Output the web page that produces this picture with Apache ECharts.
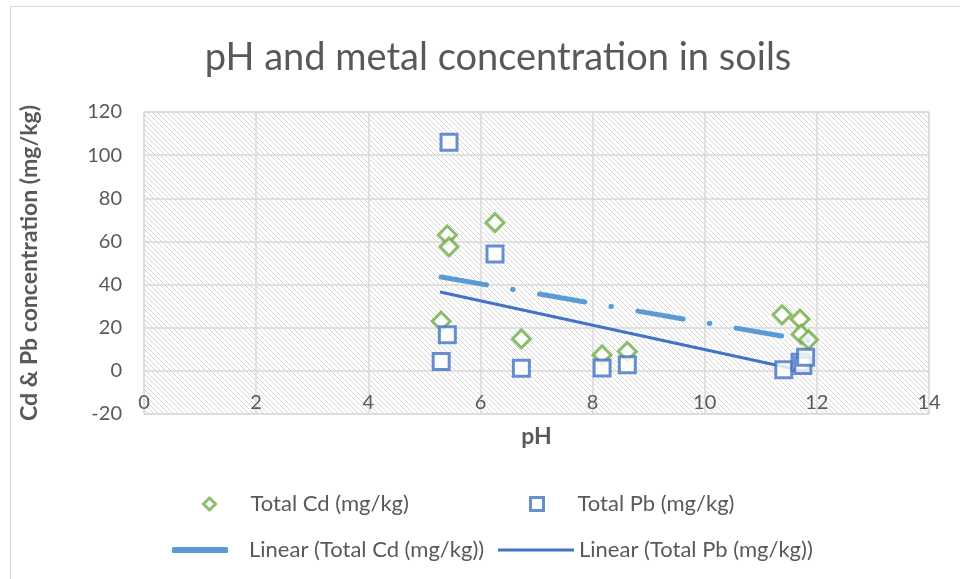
<!DOCTYPE html>
<html>
<head>
<meta charset="utf-8">
<script src="https://cdn.jsdelivr.net/npm/echarts@6/dist/echarts.min.js"></script>
<style>html,body{margin:0;padding:0;background:#fff;}#c{width:960px;height:579px;}</style>
</head>
<body>
<div id="c"></div>
<script>
// ---- data ----
var cdPH  = [5.3, 5.41, 5.44, 6.26, 6.73, 8.17, 8.62, 11.38, 11.7, 11.72, 11.85];
var cdVal = [23, 63, 57.5, 68.7, 14.8, 7.4, 9, 26, 24, 17, 14.4];
var pbPH  = [5.44, 5.3, 5.41, 6.26, 6.73, 8.17, 8.62, 11.41, 11.7, 11.75, 11.8];
var pbVal = [106, 4.3, 16.7, 54.2, 1.2, 1.3, 2.8, 0.5, 4, 2.5, 6.3];
// trendline end points
var cdTrendPH  = [5.3, 11.85];
var cdTrendVal = [43.5, 14];
var pbTrendPH  = [5.3, 11.8];
var pbTrendVal = [36.4, -0.3];
var xTicks = [0, 14, 2];     // min, max, interval
var yTicks = [-20, 120, 20]; // min, max, interval

var titleText = 'pH and metal concentration in soils';
var names = ['Total Cd (mg/kg)', 'Total Pb (mg/kg)', 'Linear (Total Cd (mg/kg))', 'Linear (Total Pb (mg/kg))'];

function zip(a, b) { return a.map(function (v, i) { return [v, b[i]]; }); }

// hatch pattern
var pc = document.createElement('canvas');
pc.width = 5; pc.height = 5;
var g = pc.getContext('2d');
g.fillStyle = '#ffffff'; g.fillRect(0, 0, 5, 5);
g.strokeStyle = '#d6d6d6'; g.lineWidth = 1;
g.beginPath();
g.moveTo(-1, -1); g.lineTo(6, 6);
g.moveTo(-1, 4); g.lineTo(1, 6);
g.moveTo(4, -1); g.lineTo(6, 1);
g.stroke();

var FONT = 'Lato';
var TXT = '#595959';
var legText = { fontFamily: FONT, fontSize: 22, color: TXT };

var chart = echarts.init(document.getElementById('c'), null, { renderer: 'canvas' });
chart.setOption({
  backgroundColor: '#ffffff',
  animation: false,
  title: {
    text: titleText, left: 493, top: 34, textAlign: 'center',
    textStyle: { fontFamily: FONT, fontSize: 38, fontWeight: 'normal', color: TXT }
  },
  graphic: [{
    type: 'rect', silent: true, z: -10,
    shape: { x: 10.5, y: 6.5, width: 1000, height: 700 },
    style: { fill: null, stroke: '#d9d9d9', lineWidth: 1 }
  }],
  grid: {
    left: 144, right: 31, top: 112, bottom: 165,
    show: true, borderColor: '#d9d9d9', borderWidth: 1,
    backgroundColor: { image: pc, repeat: 'repeat' }
  },
  xAxis: {
    type: 'value', min: xTicks[0], max: xTicks[1], interval: xTicks[2],
    position: 'bottom',
    axisLine: { show: false, onZero: false }, axisTick: { show: false },
    axisLabel: { inside: true, margin: 1, color: TXT, fontFamily: FONT, fontSize: 20 },
    splitLine: { show: true, lineStyle: { color: '#d9d9d9', width: 1.5 } },
    name: 'pH', nameLocation: 'middle', nameGap: 11,
    nameTextStyle: { fontFamily: FONT, fontSize: 23, fontWeight: 'bold', color: TXT }
  },
  yAxis: {
    type: 'value', min: yTicks[0], max: yTicks[1], interval: yTicks[2],
    axisLine: { show: false }, axisTick: { show: false },
    axisLabel: { margin: 22, color: TXT, fontFamily: FONT, fontSize: 20 },
    splitLine: { show: true, lineStyle: { color: '#d9d9d9', width: 1.5 } },
    name: 'Cd & Pb concentration (mg/kg)', nameLocation: 'middle', nameRotate: 90, nameGap: 103,
    nameTextStyle: { fontFamily: FONT, fontSize: 23, fontWeight: 'bold', color: TXT }
  },
  legend: [
    { data: [names[0]], left: 197, top: 488, itemWidth: 12, itemHeight: 12,
      itemStyle: { color: '#ffffff', borderColor: '#70ad47', borderWidth: 3 },
      textStyle: Object.assign({ padding: [0, 0, 0, 30] }, legText) },
    { data: [names[1]], left: 524, top: 488, itemWidth: 13, itemHeight: 13,
      itemStyle: { color: '#ffffff', borderColor: '#4472c4', borderWidth: 3 },
      textStyle: Object.assign({ padding: [0, 0, 0, 29] }, legText) },
    { data: [{ name: names[2], icon: 'roundRect' }], left: 167, top: 534, itemWidth: 56, itemHeight: 6,
      itemStyle: { color: '#5b9bd5', borderWidth: 0 },
      textStyle: Object.assign({ padding: [0, 0, 0, 16] }, legText) },
    { data: [{ name: names[3], icon: 'rect' }], left: 493, top: 534, itemWidth: 76, itemHeight: 3,
      itemStyle: { color: '#4472c4', borderWidth: 0 },
      textStyle: Object.assign({ padding: [0, 0, 0, 0] }, legText) }
  ],
  series: [
    { name: names[2], type: 'line', data: zip(cdTrendPH, cdTrendVal), showSymbol: false, symbol: 'none', z: 2,
      lineStyle: { color: '#5b9bd5', width: 5, type: [46, 26.5, 0.5, 26.8], cap: 'round' },
      itemStyle: { color: '#5b9bd5' } },
    { name: names[3], type: 'line', data: zip(pbTrendPH, pbTrendVal), showSymbol: false, symbol: 'none', z: 2,
      lineStyle: { color: '#4472c4', width: 3, type: 'solid', cap: 'round' },
      itemStyle: { color: '#4472c4' } },
    { name: names[0], type: 'scatter', data: zip(cdPH, cdVal), symbol: 'diamond', symbolSize: 18, z: 3,
      itemStyle: { color: '#ffffff', borderColor: '#70ad47', borderWidth: 3 } },
    { name: names[1], type: 'scatter', data: zip(pbPH, pbVal), symbol: 'rect', symbolSize: 16, z: 4,
      itemStyle: { color: '#ffffff', borderColor: '#4472c4', borderWidth: 3 } }
  ]
});
</script>
</body>
</html>
